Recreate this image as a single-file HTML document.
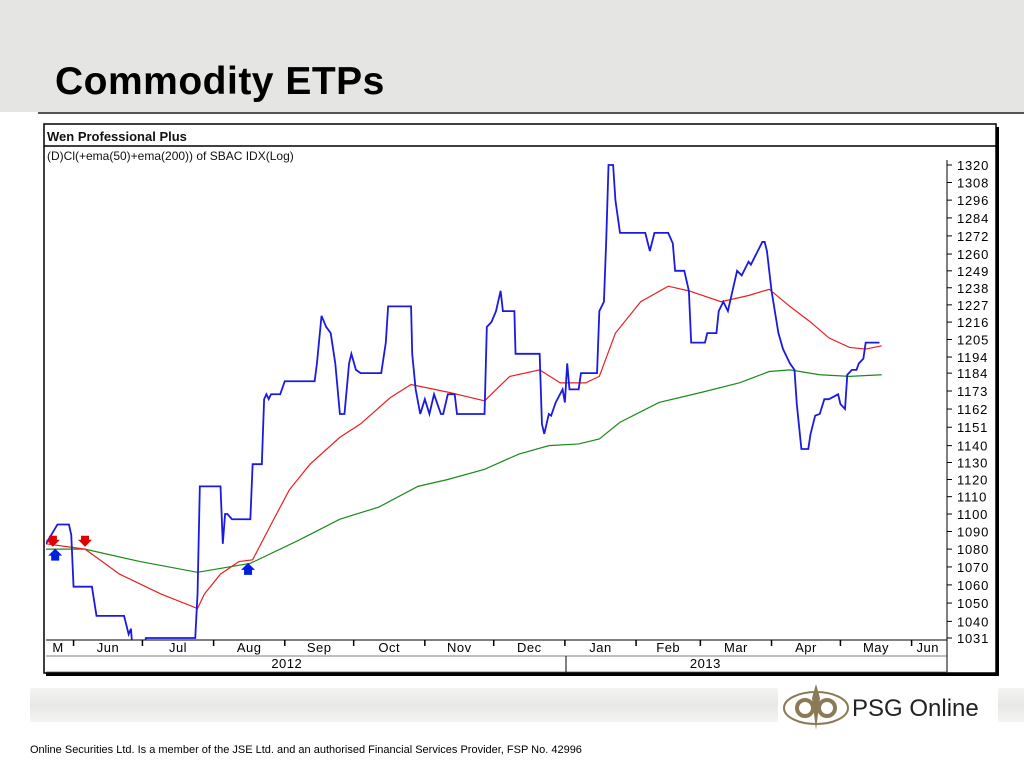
<!DOCTYPE html>
<html><head><meta charset="utf-8"><style>
body{margin:0;width:1024px;height:768px;overflow:hidden;background:#fff;font-family:"Liberation Sans",sans-serif;position:relative}
.hdr{position:absolute;left:0;top:0;width:1024px;height:112px;background:#e5e5e3}
.hl{position:absolute;left:38px;top:112px;width:986px;height:2px;background:#555}
h1{position:absolute;left:55px;top:60px;margin:0;font-size:39px;font-weight:bold;color:#000;letter-spacing:0.5px}
.foot{position:absolute;left:30px;top:744px;font-size:11px;color:#000}
.band{position:absolute;left:30px;top:688px;width:994px;height:34px;background:linear-gradient(180deg,#f4f4f2,#e8e8e6 50%,#f4f4f2)}
</style></head><body>
<div class="hdr"></div>
<div class="hl"></div>
<h1>Commodity ETPs</h1>
<div class="band"></div>
<div style="position:absolute;left:778px;top:680px;width:220px;height:56px;background:#fff">
<svg width="220" height="56"><ellipse cx="38" cy="28" rx="32" ry="16" fill="none" stroke="#8a7a55" stroke-width="2"/><path d="M38 4 L42 18 L38 50 L34 18Z" fill="#8a7a55"/><circle cx="27" cy="28" r="8" fill="none" stroke="#8a7a55" stroke-width="4"/><circle cx="49" cy="28" r="8" fill="none" stroke="#8a7a55" stroke-width="4"/><text x="74" y="36" font-family="Liberation Sans" font-size="24" fill="#222">PSG Online</text></svg></div>
<div class="foot">Online Securities Ltd. Is a member of the JSE Ltd. and an authorised Financial Services Provider, FSP No. 42996</div>
<svg id="chart" width="1024" height="768" style="position:absolute;left:0;top:0" font-family="Liberation Sans"></svg>
<script>
const blueDays=[0,5,10,11,12,20,22,29,34,35,36,37,37.5,43,43.5,65,66,67,76,77,78,79,81,89,90,94,95,96,97,98,102,104,117,118,120,122,124,126,128,130,132,133,135,137,146,148,149,159,159.5,161,163,165,167,169,172,173,175,178,179,191,192,194,196,198,199,204,204.5,215,216,217,219,220,222,225,226,227,228,232,233,240,241,243,244,245,247,248,250,261,263,265,271,273,274,278,280,281,287,288,292,293,295,297,299,301,303,306,307,309,310,312,313,314,316,319,321,324,326,327,329,332,333,335,337,339,341,345,346,348,349,351,353,354,356,357,363];
const blueVals=[1083,1094,1094,1088,1059,1059,1043,1043,1043,1038,1033,1036,1028,1028,1031,1031,1055,1116,1116,1083,1100,1100,1097,1097,1129,1129,1168,1171,1168,1171,1171,1179,1179,1190,1220,1213,1209,1190,1159,1159,1190,1196,1186,1184,1184,1203,1226,1226,1196,1174,1159,1168,1159,1171,1159,1159,1171,1171,1159,1159,1213,1216,1223,1236,1223,1223,1196,1196,1153,1147,1159,1158,1166,1174,1166,1190,1174,1174,1184,1184,1223,1229,1269,1320,1320,1296,1274,1274,1262,1274,1274,1267,1249,1249,1236,1203,1203,1209,1209,1223,1229,1223,1236,1249,1246,1255,1253,1259,1262,1268,1268,1262,1236,1209,1199,1190,1186,1165,1138,1138,1147,1158,1159,1168,1168,1171,1165,1162,1183,1186,1186,1190,1193,1203,1203];
const redDays=[0,17,32,50,66,69,76,84,90,98,106,115,128,137,150,159,176,185,191,202,215,224,235,241,248,259,271,280,294,306,315,324,333,341,350,357,364];
const redVals=[1083,1080,1066,1055,1047,1055,1066,1073,1074,1094,1114,1129,1145,1153,1169,1177,1172,1169,1167,1182,1186,1178,1178,1182,1209,1229,1239,1236,1229,1233,1237,1226,1216,1206,1200,1199,1201];
const greenDays=[0,17,41,66,89,110,128,145,162,175,191,206,219,232,241,250,267,285,302,315,324,337,350,364];
const greenVals=[1080,1080,1073,1067,1072,1085,1097,1104,1116,1120,1126,1135,1140,1141,1144,1154,1166,1172,1178,1185,1186,1183,1182,1183];
const yTicks=[1320,1308,1296,1284,1272,1260,1249,1238,1227,1216,1205,1194,1184,1173,1162,1151,1140,1130,1120,1110,1100,1090,1080,1070,1060,1050,1040,1031];
const monthLabels=["M","Jun","Jul","Aug","Sep","Oct","Nov","Dec","Jan","Feb","Mar","Apr","May","Jun"];
const monthStartDays=[-18,12,42,73,104,134,165,195,226,257,285,316,346,377];
const sellDays=[3,17]; const sellVals=[1083,1083];
const buyDays=[4,88]; const buyVals=[1078,1070];
const yearLabels=["2012","2013"];

const NS="http://www.w3.org/2000/svg";const svg=document.getElementById('chart');
const PL=46,PR=947,PT=147,PB=640;
const X=d=>46+d*2.296;
const Y=v=>165+(Math.log(1320)-Math.log(v))/(Math.log(1320)-Math.log(1031))*473;
function mk(t,a,p){const e=document.createElementNS(NS,t);for(const k in a)e.setAttribute(k,a[k]);(p||svg).appendChild(e);return e;}
let f=mk('rect',{x:46,y:127,width:953,height:549,fill:'#000'});


f=mk('rect',{x:44,y:124,width:952,height:549,fill:'#fff',stroke:'#000','stroke-width':1.5});


mk('line',{x1:44,y1:146,x2:996,y2:146,stroke:'#000','stroke-width':1.5});
let t=mk('text',{x:47,y:141,'font-size':13,'font-weight':'bold',fill:'#111'});t.textContent='Wen Professional Plus';


t=mk('text',{x:47,y:160,'font-size':12,fill:'#111'});t.textContent='(D)Cl(+ema(50)+ema(200)) of SBAC IDX(Log)';


mk('line',{x1:947,y1:160,x2:947,y2:672,stroke:'#000'});
mk('line',{x1:46,y1:640,x2:947,y2:640,stroke:'#000'});
mk('line',{x1:46,y1:656,x2:947,y2:656,stroke:'#000','stroke-width':0.6});
mk('line',{x1:46,y1:672,x2:947,y2:672,stroke:'#000','stroke-width':0.6});
mk('line',{x1:566,y1:656,x2:566,y2:672,stroke:'#000'});
yTicks.forEach(v=>{const y=Y(v);mk('line',{x1:947,y1:y,x2:952,y2:y,stroke:'#000'});
 const tx=mk('text',{x:957,y:y+5,'font-size':13,fill:'#000','letter-spacing':'0.8'});tx.textContent=v;
 
 });
monthLabels.forEach((m,i)=>{const s=X(monthStartDays[i]);if(i>0&&s<947)mk('line',{x1:s,y1:640,x2:s,y2:646,stroke:'#000','stroke-width':1.5});
 const e=i+1<monthStartDays.length?monthStartDays[i+1]:monthStartDays[i]+30;let cx=Math.max(X(monthStartDays[i]),54);cx=(cx+Math.min(X(e),944))/2;if(i==0)cx=58;
 const tx=mk('text',{x:cx,y:652,'font-size':13,'text-anchor':'middle',fill:'#000','letter-spacing':'0.5'});tx.textContent=m;
 
 });
[[X(104)+2,yearLabels[0]],[X(285)+5,yearLabels[1]]].forEach(a=>{const tx=mk('text',{x:a[0],y:668,'font-size':13,'text-anchor':'middle',fill:'#000','letter-spacing':'0.5'});tx.textContent=a[1];
 
 });
mk('clipPath',{id:'pc'});mk('rect',{x:PL,y:PT,width:PR-PL,height:PB-PT},svg.lastChild);
function line(ds,vs,col,w,name){const p=mk('polyline',{points:ds.map((d,i)=>X(d)+','+Y(vs[i])).join(' '),fill:'none',stroke:col,'stroke-width':w,'clip-path':'url(#pc)'});
 
 }
line(greenDays,greenVals,'#1a8a1a',1.2,'ema200-line');
line(redDays,redVals,'#e82020',1.2,'ema50-line');
line(blueDays,blueVals,'#1a1ae0',1.8,'close-line');
sellDays.forEach((d,i)=>{const x=X(d),y=Y(sellVals[i]);const p=mk('path',{d:`M${x-4} ${y-8}h8v4h3l-7 7l-7-7h3z`,fill:'#e00000'});
 
 });
buyDays.forEach((d,i)=>{const x=X(d),y=Y(buyVals[i]);const p=mk('path',{d:`M${x} ${y-4}l7 7h-3v5h-8v-5h-3z`,fill:'#0020e0'});
 
 });
</script>
</body></html>
